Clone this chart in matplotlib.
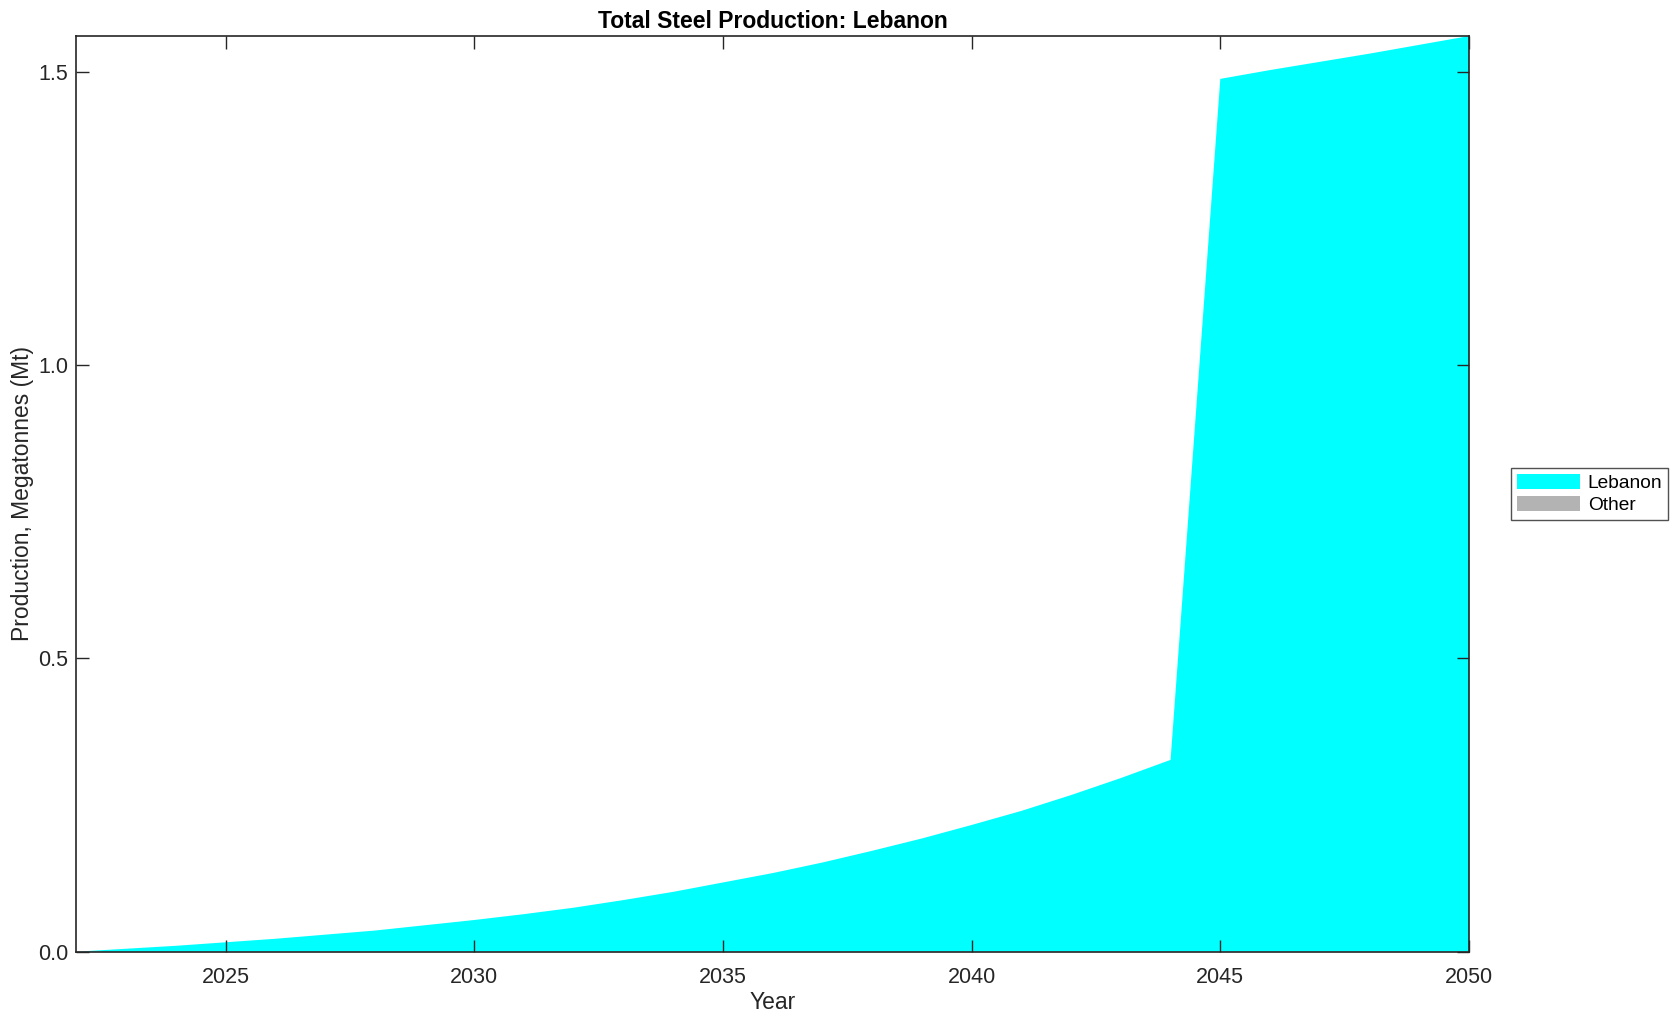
import matplotlib
matplotlib.use("Agg")
import matplotlib.pyplot as plt
import numpy as np
from matplotlib.patches import Patch

plt.rcParams['font.family'] = ['Liberation Sans', 'DejaVu Sans']

years = list(range(2022, 2051))
lebanon = [0.000, 0.005, 0.010, 0.016, 0.022, 0.029, 0.036, 0.045, 0.054,
           0.064, 0.075, 0.088, 0.102, 0.118, 0.134, 0.152, 0.172, 0.193,
           0.216, 0.240, 0.267, 0.296, 0.327, 1.488, 1.503, 1.517, 1.531,
           1.546, 1.561]
other = [0.0] * len(years)
series_names = ['Lebanon', 'Other']
series_colors = ['#00ffff', '#b3b3b3']
xticks = [2025, 2030, 2035, 2040, 2045, 2050]
yticks = [0.0, 0.5, 1.0, 1.5]

fig = plt.figure(figsize=(16.8, 10.21), dpi=100)
ax = fig.add_axes([0.0455, 0.0679, 0.8289, 0.8968])
ax.stackplot(years, lebanon, other, colors=series_colors, linewidth=0)
ax.set_xlim(years[0], years[-1])
ax.set_ylim(0, max(np.array(lebanon) + np.array(other)))
ax.set_xticks(xticks)
ax.set_yticks(yticks)
ax.set_yticklabels([f"{v:.1f}" for v in yticks])
ax.tick_params(direction='in', length=9, width=1, top=True, right=True,
               labelsize=15.5, colors='#262626', labelcolor='#262626')
ax.tick_params(axis='x', pad=11)
ax.tick_params(axis='y', pad=6)
for s in ax.spines.values():
    s.set_linewidth(1.2)
    s.set_color('#262626')
ax.set_xlabel('Year', fontsize=16.5, color='#262626', labelpad=2)
ax.set_ylabel('Production, Megatonnes (Mt)', fontsize=16.5, color='#262626', labelpad=3)
ax.set_title('Total Steel Production: Lebanon', fontsize=16.5, fontweight='bold', pad=6)

handles = [Patch(facecolor=c, edgecolor='none') for c in series_colors]
leg = fig.legend(handles, series_names, loc='upper left',
                 bbox_to_anchor=(1511/1680, 1-468/1021), fontsize=13.8,
                 handlelength=3.3, handleheight=0.85, handletextpad=0.4,
                 labelspacing=0.2, borderpad=0.3, fancybox=False,
                 frameon=True, borderaxespad=0)
leg.get_frame().set_edgecolor('#262626')
leg.get_frame().set_linewidth(1.0)

fig.savefig('out.png', dpi=100)
